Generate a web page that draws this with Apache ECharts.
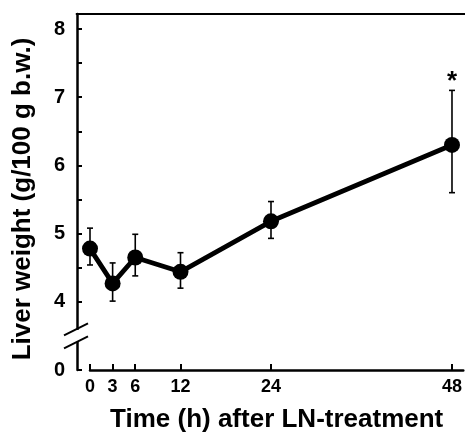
<!DOCTYPE html>
<html>
<head>
<meta charset="utf-8">
<script src="https://cdn.jsdelivr.net/npm/echarts@6/dist/echarts.min.js"></script>
<style>
html,body{margin:0;padding:0;background:#fff;}
#chart{width:465px;height:438px;}
</style>
</head>
<body>
<div id="chart"></div>
<script>
// Data
var times = [0, 3, 6, 12, 24, 48];
var means = [4.78, 4.27, 4.65, 4.44, 5.18, 6.30];
var errUpper = [5.08, 4.57, 4.99, 4.72, 5.47, 7.10];
var errLower = [4.54, 4.01, 4.38, 4.20, 4.93, 5.60];
var significance = ['', '', '', '', '', '*'];

// Axis ticks / labels (y axis is broken: position 3 is labelled "0")
var xTickValues = [0, 3, 6, 12, 24, 48];
var yTickValues = [3, 4, 4.5, 5, 5.5, 6, 6.5, 7, 7.5, 8];
var yLabelValues = [3, 4, 5, 6, 7, 8];
var yLabelTexts = ['0', '4', '5', '6', '7', '8'];
var yBreakValue = 3.5;

var FONT = '"Liberation Sans", Arial, Helvetica, sans-serif';
var Y_OFFSET = 13;

var chart = echarts.init(document.getElementById('chart'), null, {renderer: 'canvas'});

var lineData = times.map(function (t, i) { return [t, means[i]]; });
var errData = times.map(function (t, i) { return [t, errLower[i], errUpper[i], significance[i]]; });

var option = {
  backgroundColor: '#fff',
  animation: false,
  grid: {left: 90, right: 0, top: 14, bottom: 65, containLabel: false},
  xAxis: {
    type: 'value', min: 0, max: 49.5,
    name: 'Time (h) after LN-treatment',
    nameLocation: 'middle', nameGap: 37,
    nameTextStyle: {fontFamily: FONT, fontWeight: 'bold', fontSize: 26, color: '#000'},
    axisLine: {show: true, onZero: false, lineStyle: {color: '#000', width: 2.5}},
    axisTick: {show: true, inside: true, length: 6, customValues: xTickValues, lineStyle: {color: '#000', width: 2}},
    axisLabel: {show: true, customValues: xTickValues, margin: 8, fontFamily: FONT, fontWeight: 'bold', fontSize: 18, color: '#000'},
    splitLine: {show: false}
  },
  yAxis: {
    type: 'value', min: 3, max: 8.22, offset: Y_OFFSET, position: 'left',
    name: 'Liver weight (g/100 g b.w.)',
    nameLocation: 'middle', nameGap: 41,
    nameTextStyle: {fontFamily: FONT, fontWeight: 'bold', fontSize: 26, color: '#000', padding: [0, 14, 0, 0]},
    axisLine: {show: true, onZero: false, lineStyle: {color: '#000', width: 2.5}},
    axisTick: {show: true, inside: true, length: 5, customValues: yTickValues, lineStyle: {color: '#000', width: 2}},
    axisLabel: {
      show: true, customValues: yLabelValues, margin: 12,
      fontFamily: FONT, fontWeight: 'bold', fontSize: 20, color: '#000',
      formatter: function (v) {
        var i = yLabelValues.indexOf(v);
        return i >= 0 ? yLabelTexts[i] : '';
      }
    },
    splitLine: {show: false}
  },
  series: [
    {
      type: 'custom',
      z: 3,
      data: errData,
      renderItem: function (params, api) {
        var x = api.value(0);
        var lo = api.coord([x, api.value(1)]);
        var hi = api.coord([x, api.value(2)]);
        var cap = 3;
        var children = [
          {type: 'line', shape: {x1: lo[0], y1: lo[1], x2: hi[0], y2: hi[1]}, style: {stroke: '#000', lineWidth: 1.6}},
          {type: 'line', shape: {x1: hi[0] - cap, y1: hi[1], x2: hi[0] + cap, y2: hi[1]}, style: {stroke: '#000', lineWidth: 1.6}},
          {type: 'line', shape: {x1: lo[0] - cap, y1: lo[1], x2: lo[0] + cap, y2: lo[1]}, style: {stroke: '#000', lineWidth: 1.6}}
        ];
        var sig = api.value(3);
        if (sig) {
          children.push({type: 'text', style: {text: sig, x: hi[0], y: hi[1] + 4, align: 'center', verticalAlign: 'bottom',
            font: 'bold 26px "Liberation Sans", Arial, sans-serif', fill: '#000'}});
        }
        return {type: 'group', children: children};
      }
    },
    {
      type: 'line',
      z: 4,
      data: lineData,
      symbol: 'circle',
      symbolSize: 16,
      lineStyle: {color: '#000', width: 4.8},
      itemStyle: {color: '#000'}
    }
  ]
};

chart.setOption(option);

function addDecorations() {
  var topLeft = chart.convertToPixel({gridIndex: 0}, [0, 8.22]);
  var axisX = topLeft[0] - Y_OFFSET;
  var brk = chart.convertToPixel({gridIndex: 0}, [0, yBreakValue]);
  var by = brk[1];
  var w = chart.getWidth();
  chart.setOption({
    graphic: [
      {type: 'line', z: 100, shape: {x1: axisX - 1.2, y1: topLeft[1], x2: w, y2: topLeft[1]}, style: {stroke: '#000', lineWidth: 2.2}},
      {type: 'rect', z: 100, shape: {x: axisX - 3, y: by - 6, width: 6, height: 12}, style: {fill: '#fff'}},
      {type: 'line', z: 101, shape: {x1: axisX - 13, y1: by - 0.5, x2: axisX + 11, y2: by - 12.5}, style: {stroke: '#000', lineWidth: 2}},
      {type: 'line', z: 101, shape: {x1: axisX - 13, y1: by + 12.5, x2: axisX + 11, y2: by + 0.5}, style: {stroke: '#000', lineWidth: 2}}
    ]
  });
}
addDecorations();
</script>
</body>
</html>
